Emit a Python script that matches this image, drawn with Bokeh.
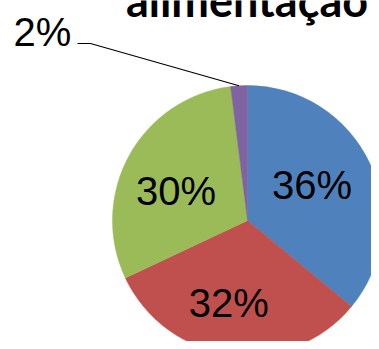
import math
from bokeh.plotting import figure
from bokeh.models import Range1d, ColumnDataSource
from bokeh.core.properties import value
from bokeh.embed import file_html
from bokeh.resources import INLINE

# ---- data ----
title_text = "alimentação"
categories = ["Categoria 1", "Categoria 2", "Categoria 3", "Categoria 4"]
shares = [36, 32, 30, 2]
colors = ["#4F81BD", "#C0504D", "#9BBB59", "#8064A2"]

# ---- layout (reference pixel frame, y measured upward) ----
W, H = 371, 341
REF_H = 349
cx, cy, R = 247.0, REF_H - 220.0, 135.0
label_r = 0.57 * R
# small per-label nudges (pixels) mimicking the best-fit label placement
nudge_x = [-5, -9, -4, 0]
nudge_y = [3, -6, -8, 0]

p = figure(width=W, height=H, output_backend="svg", toolbar_location=None,
           x_range=Range1d(0, W), y_range=Range1d(REF_H - H, REF_H),
           min_border=0, outline_line_color=None,
           x_axis_location=None, y_axis_location=None,
           background_fill_color="white", border_fill_color="white")
p.grid.visible = False

total = float(sum(shares))
starts, ends, mids = [], [], []
c = 0.0
for v in shares:
    c0, c1 = c / total, (c + v) / total
    starts.append(math.pi / 2 - 2 * math.pi * c1)
    ends.append(math.pi / 2 - 2 * math.pi * c0)
    mids.append(math.pi / 2 - 2 * math.pi * (c0 + c1) / 2)
    c += v

src = ColumnDataSource(dict(cat=categories, start=starts, end=ends, color=colors))
p.wedge(x=cx, y=cy, radius=R, start_angle="start", end_angle="end",
        fill_color="color", line_color="color", line_width=0.5, source=src)

# inside labels
lx, ly, lt = [], [], []
for i, (v, m) in enumerate(zip(shares, mids)):
    if v >= 5:
        lx.append(cx + label_r * math.cos(m) + nudge_x[i])
        ly.append(cy + label_r * math.sin(m) + nudge_y[i])
        lt.append(f"{v}%")
p.text(x=lx, y=ly, text=lt, text_align="center", text_baseline="middle",
       text_font=value("Liberation Sans"), text_font_size="40px", text_color="black")

# outside label(s) with leader line
for v, m in zip(shares, mids):
    if v < 5:
        ex, ey = cx + R * math.cos(m), cy + R * math.sin(m)
        p.line(x=[77, 90, ex], y=[REF_H - 43, REF_H - 43, ey], line_color="black", line_width=1.2)
        p.text(x=[13], y=[REF_H - 31], text=[f"{v}%"], text_align="left",
               text_baseline="middle", text_font=value("Liberation Sans"),
               text_font_size="40px", text_color="black")

# title (only its lower part is visible, as in the reference)
p.text(x=[246.5], y=[REF_H + 1], text=[title_text], text_align="center",
       text_baseline="middle", text_font=value("Lato"), text_font_style="bold",
       text_font_size="45px", text_color="black")

open("out.html", "w").write(file_html(p, INLINE))
